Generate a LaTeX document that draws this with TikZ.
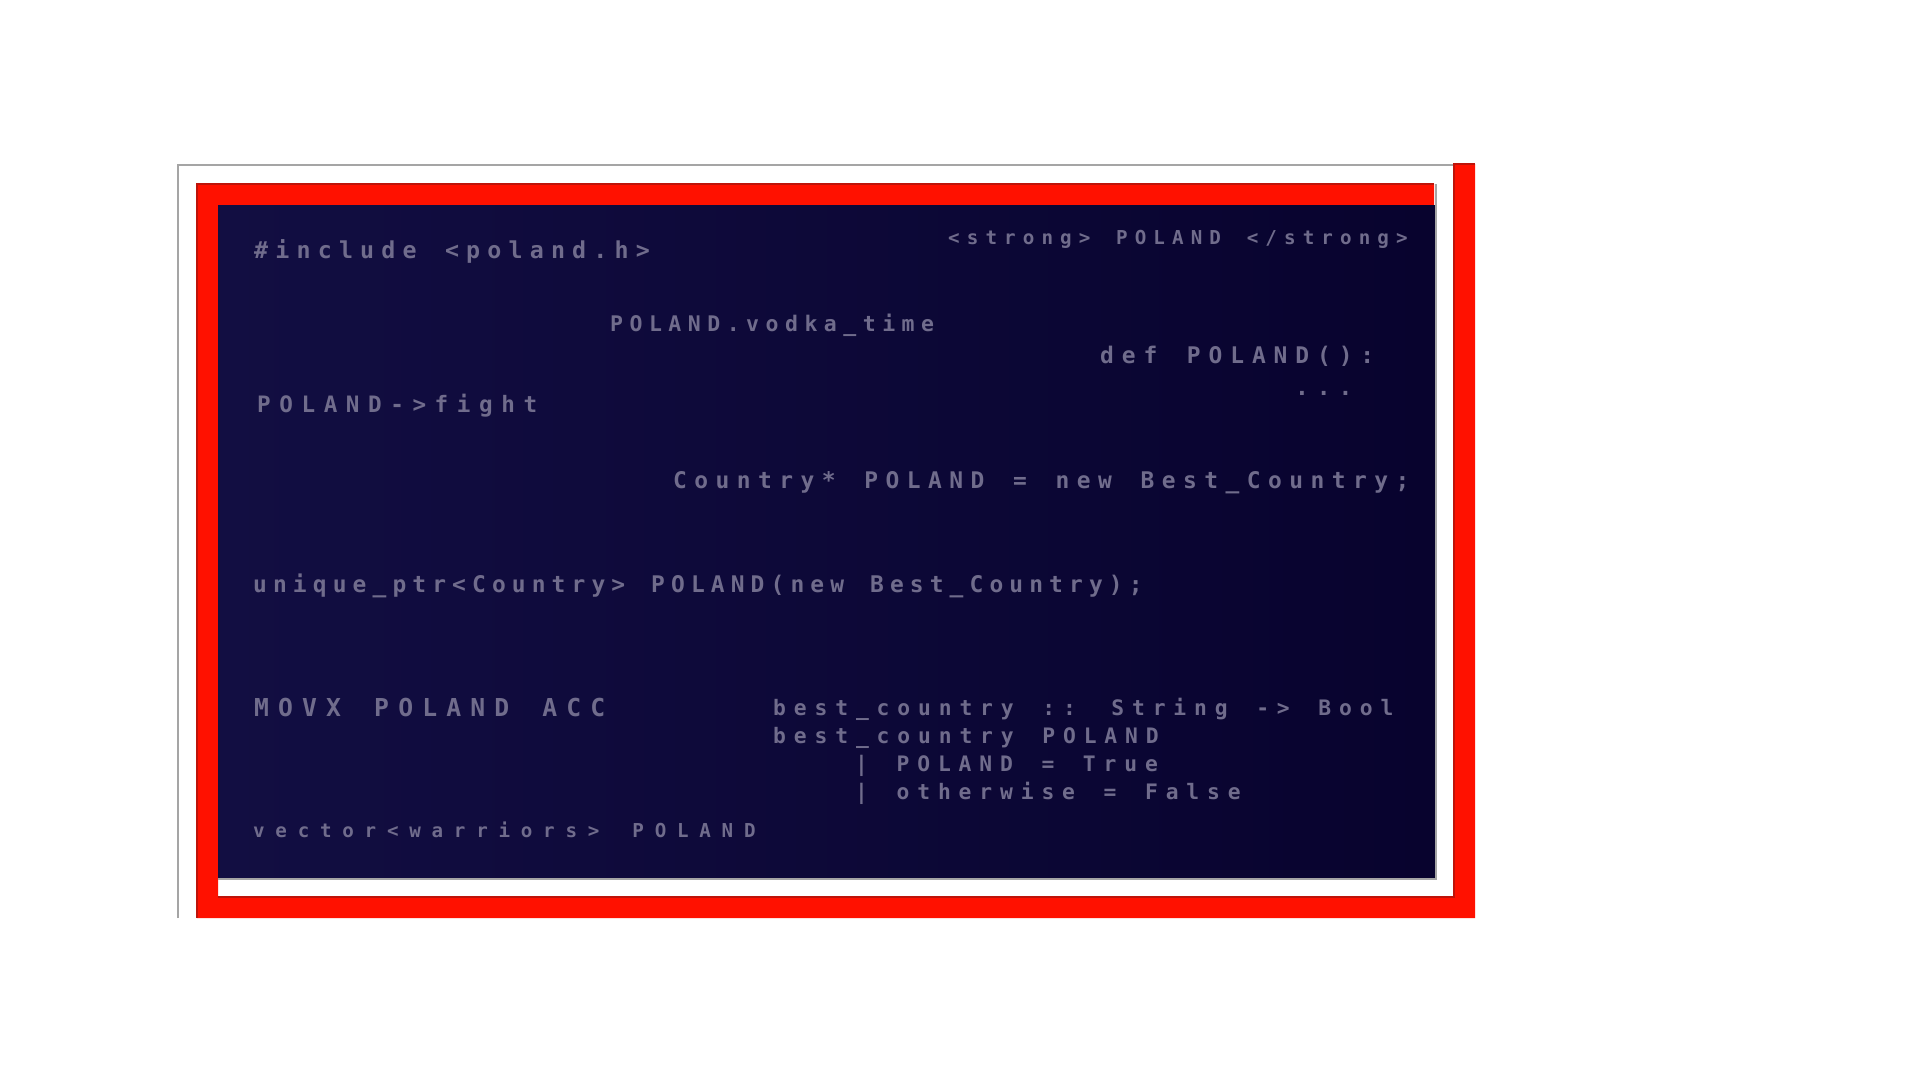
\documentclass[tikz,border=0pt]{standalone}
\usepackage{fontspec}
\usepackage{tikz}
\usetikzlibrary{positioning}
\pgfdeclarelayer{background}
\pgfdeclarelayer{foreground}
\pgfsetlayers{background,main,foreground}

\newfontfamily\codefamily{DejaVu Sans Mono}
\newcommand{\codefont}[2]{\codefamily\bfseries\fontsize{#1}{#1}\selectfont\addfontfeatures{LetterSpace=#2}}
\newlength{\codeextra}
\newcommand{\gap}{\hspace*{\codeextra}}

\definecolor{codegrey}{RGB}{112,108,140}
\definecolor{panelnavy}{RGB}{8,3,46}
\definecolor{panelstreak}{RGB}{18,14,66}
\definecolor{flagred}{RGB}{255,17,0}
\definecolor{edgered}{RGB}{190,20,10}
\definecolor{framegrey}{RGB}{165,165,165}

\begin{document}
\begin{tikzpicture}[x=1pt,y=-1pt,
						codeline/.style 2 args={text=codegrey, anchor=base west, inner sep=0pt, font=\codefont{#1}{#2},
							execute at begin node={\pgfmathsetlength{\codeextra}{#1*#2/100}}},
						]
						\useasboundingbox (0,0) rectangle (1920,1080);

						\begin{pgfonlayer}{background}
						%Frame
						\fill[white] (0,0) rectangle (1920,1080);
						\draw[framegrey, line width=2pt] (178,918) -- (178,165) -- (1454,165);
						\fill[flagred] (197,184) -- (1434,184) -- (1434,205) -- (218,205) -- (218,897) -- (1454,897) -- (1454,164) -- (1475,164) -- (1475,918) -- (197,918) -- cycle;
						\draw[edgered, line width=1.5pt] (197,918) -- (197,184) -- (1434,184);
						\draw[edgered, line width=1.5pt] (218,897) -- (1454,897) -- (1454,164) -- (1475,164);
						\shade[left color=panelstreak, right color=panelnavy] (218,205) rectangle (1435,878);
						\draw[framegrey, line width=1.5pt] (1436,184) -- (1436,879) -- (218,879);
						\end{pgfonlayer}

						%Code
						\node[codeline={23.3}{30.8}]   (include)  at (254,258)  {\#include \gap<poland.h>};
						\node[codeline={19.2}{37}]     (strong)   at (948,244)  {<strong> \gap POLAND \gap</strong>};
						\node[codeline={21.5}{30.2}]   (vodka)    at (610,331)  {POLAND.vodka\_time};
						\node[codeline={22.9}{34.5}]   (def)      at (1100,363) {def \gap POLAND():};
						\node[codeline={22.9}{34.5}]   (dots)     at (1295,395) {...};
						\node[codeline={22.6}{38}]     (fight)    at (257,412)  {POLAND->fight};
						\node[codeline={22.9}{32.6}]   (country)  at (673,488)  {Country* \gap POLAND \gap= \gap new \gap Best\_Country;};
						\node[codeline={22.9}{26.7}]   (unique)   at (253,592)  {unique\_ptr<Country> \gap POLAND(new \gap Best\_Country);};
						\node[codeline={24.7}{37}]     (movx)     at (254,716)  {MOVX \gap POLAND \gap ACC};
						\node[codeline={21.3}{37}]     (sig)      at (773,715)  {best\_country \gap:: \gap String \gap-> \gap Bool};
						\node[codeline={21.3}{37}]     (best)     at (773,743)  {best\_country \gap POLAND};
						\node[codeline={21.3}{37}]     (guardA)   at (855,771)  {| \gap POLAND \gap= \gap True};
						\node[codeline={21.3}{37}]     (guardB)   at (855,799)  {| \gap otherwise \gap= \gap False};
						\node[codeline={19.2}{56}]     (vector)   at (253,837)  {vector<warriors> \gap POLAND};
					\end{tikzpicture}
\end{document}
